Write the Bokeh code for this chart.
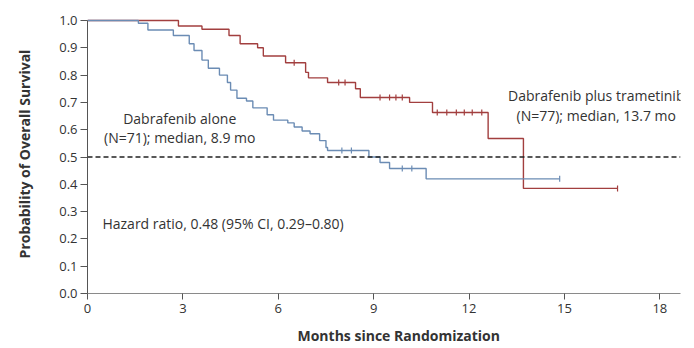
import math
from bokeh.plotting import figure
from bokeh.models import Span, Label, Range1d, FixedTicker, Title
from bokeh.embed import file_html
from bokeh.resources import INLINE

# Dabrafenib plus trametinib (combination) - Kaplan-Meier steps
combo_t = [0, 2.86, 3.6, 4.45, 4.8, 5.35, 5.53, 6.23, 6.86, 6.95, 7.55, 8.43, 8.58, 10.13, 10.85, 12.6, 13.71, 16.67]
combo_s = [1.0, 0.98, 0.968, 0.945, 0.915, 0.90, 0.87, 0.845, 0.81, 0.79, 0.773, 0.75, 0.718, 0.70, 0.663, 0.568, 0.385, 0.385]
combo_cens_t = [6.5, 7.9, 8.1, 9.2, 9.5, 9.7, 9.9, 11.0, 11.3, 11.6, 11.85, 12.1, 12.4, 16.67]
combo_cens_s = [0.845, 0.773, 0.773, 0.718, 0.718, 0.718, 0.718, 0.663, 0.663, 0.663, 0.663, 0.663, 0.663, 0.385]

# Dabrafenib alone
mono_t = [0, 1.6, 1.9, 2.7, 3.2, 3.35, 3.6, 3.8, 4.15, 4.4, 4.5, 4.7, 5.0, 5.2, 5.65, 5.85, 6.3, 6.5, 6.75, 7.0, 7.3, 7.5, 7.55, 8.85, 9.2, 9.5, 10.65, 14.85]
mono_s = [1.0, 0.99, 0.965, 0.945, 0.915, 0.89, 0.855, 0.825, 0.80, 0.773, 0.745, 0.715, 0.705, 0.68, 0.655, 0.635, 0.625, 0.61, 0.595, 0.585, 0.56, 0.535, 0.524, 0.50, 0.48, 0.458, 0.42, 0.42]
mono_cens_t = [8.0, 8.3, 9.9, 10.2, 14.85]
mono_cens_s = [0.524, 0.524, 0.458, 0.458, 0.42]

x_ticks = [0, 3, 6, 9, 12, 15, 18]
y_ticks = [0.0, 0.1, 0.2, 0.3, 0.4, 0.5, 0.6, 0.7, 0.8, 0.9, 1.0]
median_level = 0.5

RED = "#a23f3f"
BLUE = "#6b8cb4"
FONT = "Open Sans"

p = figure(frame_width=593, frame_height=279, output_backend="svg", toolbar_location=None,
           x_range=Range1d(0, 18.65), y_range=Range1d(0, 1.022),
           min_border_left=87, min_border_right=6, min_border_top=14, min_border_bottom=54)
p.outline_line_color = None
p.xgrid.grid_line_color = None
p.ygrid.grid_line_color = None
p.background_fill_color = "white"

p.step(combo_t, combo_s, mode="after", line_color=RED, line_width=1.4)
p.step(mono_t, mono_s, mode="after", line_color=BLUE, line_width=1.4)
p.scatter(combo_cens_t, combo_cens_s, marker="dash", angle=math.pi / 2, size=6,
          line_color=RED, line_width=1.2)
p.scatter(mono_cens_t, mono_cens_s, marker="dash", angle=math.pi / 2, size=6,
          line_color=BLUE, line_width=1.2)

p.add_layout(Span(location=median_level, dimension="width", line_color="#222222",
                  line_dash="5 3", line_width=1.4))

# axes
p.xaxis.ticker = FixedTicker(ticks=x_ticks)
p.yaxis.ticker = FixedTicker(ticks=y_ticks)
p.yaxis.major_label_overrides = {v: f"{v:.1f}" for v in y_ticks}
p.yaxis.bounds = (0, 1)
for ax in (p.xaxis, p.yaxis):
    ax.major_tick_in = 0
    ax.major_tick_out = 6
    ax.minor_tick_line_color = None
    ax.major_label_text_font = FONT
    ax.major_label_text_font_size = "13px"
    ax.major_label_text_color = "#333333"
p.xaxis.axis_line_color = "#8a8a8a"
p.xaxis.major_tick_line_color = "#555555"
p.yaxis.axis_line_color = "#555555"
p.yaxis.major_tick_line_color = "#555555"
p.yaxis.major_tick_out = 7
p.yaxis.major_label_standoff = 3
p.xaxis.major_label_standoff = 4

p.yaxis.axis_label = "Probability of Overall Survival"
p.yaxis.axis_label_text_font = FONT
p.yaxis.axis_label_text_font_size = "14px"
p.yaxis.axis_label_text_font_style = "bold"
p.yaxis.axis_label_text_color = "#333333"
p.yaxis.axis_label_standoff = 22

p.add_layout(Title(text="Months since Randomization", align="left", offset=210,
                   text_font=FONT, text_font_size="14px", text_font_style="bold",
                   text_color="#333333", standoff=17), "below")

lab_kw = dict(text_font=FONT, text_font_size="14px", text_color="#333333")
p.add_layout(Label(x=2.9, y=0.641, text="Dabrafenib alone", text_align="center",
                   text_baseline="middle", **lab_kw))
p.add_layout(Label(x=2.9, y=0.571, text="(N=71); median, 8.9 mo", text_align="center",
                   text_baseline="middle", **lab_kw))
p.add_layout(Label(x=16.0, y=0.725, text="Dabrafenib plus trametinib", text_align="center",
                   text_baseline="middle", **lab_kw))
p.add_layout(Label(x=16.0, y=0.652, text="(N=77); median, 13.7 mo", text_align="center",
                   text_baseline="middle", **lab_kw))
p.add_layout(Label(x=0.47, y=0.256, text="Hazard ratio, 0.48 (95% CI, 0.29\u20130.80)",
                   text_align="left", text_baseline="middle", **lab_kw))

open("out.html", "w").write(file_html(p, INLINE))
